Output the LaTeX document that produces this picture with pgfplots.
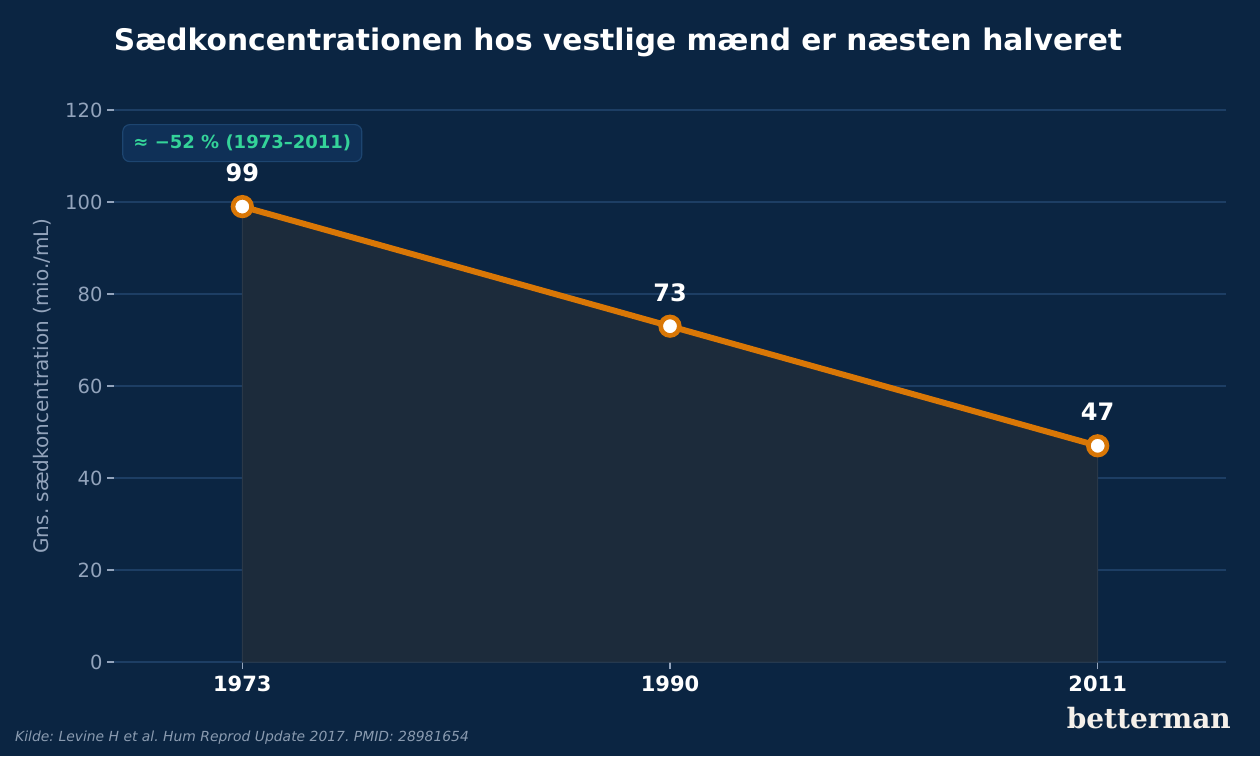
\documentclass[border=0pt]{standalone}
\usepackage{pgfplots}
\pgfplotsset{compat=1.18}
\usepackage{fontspec}
\setmainfont{DejaVu Sans}
\newfontfamily\logofont{DejaVu Serif}
\frenchspacing

\definecolor{bg}{HTML}{0B2542}
\definecolor{gridc}{HTML}{1D3E64}
\definecolor{muted}{HTML}{93A4BC}
\definecolor{areac}{HTML}{1C2B3B}
\definecolor{areaedge}{HTML}{2A3848}
\definecolor{linec}{HTML}{D97706}
\definecolor{badgefill}{HTML}{0F3057}
\definecolor{badgeedge}{HTML}{1D4570}
\definecolor{badgetext}{HTML}{34D399}
\definecolor{logoc}{HTML}{F5F0EA}
\definecolor{footc}{HTML}{8A9BB0}

\begin{document}
\begin{tikzpicture}[x=1pt,y=1pt]
\fill[bg] (0,0) rectangle (1260,756);
\begin{axis}[
  at={(114pt,94pt)}, anchor=south west,
  scale only axis, width=1112pt, height=552pt,
  xmin=-0.3, xmax=2.3, ymin=0, ymax=120,
  axis line style={draw=none},
  xtick={0,1,2}, xticklabels={1973,1990,2011},
  ytick={0,20,40,60,80,100,120},
  xtick pos=bottom, ytick pos=left,
  ymajorgrids, grid style={color=gridc, line width=1.2pt},
  tick align=outside,
  major tick length=7pt,
  tick style={color=muted, line width=1.2pt},
  xtick style={color=muted, line width=1.6pt},
  yticklabel style={font=\fontsize{19.5}{22}\selectfont, text=muted,
    /pgf/number format/assume math mode=true, xshift=-1pt},
  xticklabel style={font=\bfseries\fontsize{21}{24}\selectfont, text=white, yshift=-3pt},
  ylabel={Gns. sædkoncentration (mio./mL)},
  ylabel style={at={(rel axis cs:0,0.5)}, yshift=72pt, anchor=center,
    font=\fontsize{20}{23}\selectfont, text=muted},
  clip=false,
]
% shaded area under the series
\addplot[fill=areac, draw=areaedge, line width=1pt] coordinates {(0,99) (1,73) (2,47)} \closedcycle;
% the series itself with value labels
\addplot[color=linec, line width=6pt,
  mark=*, mark size=9.3pt,
  mark options={fill=white, draw=linec, line width=4.6pt},
  nodes near coords,
  /pgf/number format/assume math mode=true,
  every node near coord/.append style={anchor=base, yshift=25pt, text=white,
    font=\bfseries\fontsize{24}{28}\selectfont},
] coordinates {(0,99) (1,73) (2,47)};
% change badge
\node[fill=badgefill, draw=badgeedge, line width=1.2pt, rounded corners=7pt,
  text=badgetext, font=\bfseries\fontsize{18}{21}\selectfont,
  minimum width=239pt, minimum height=37pt, inner sep=0pt]
  at (axis cs:0,112.8) {≈ −52 \% (1973–2011)};
\end{axis}
% title
\node[text=white, font=\bfseries\fontsize{29.7}{34}\selectfont] at (618,714)
  {Sædkoncentrationen hos vestlige mænd er næsten halveret};
% source
\node[anchor=west, text=footc, font=\itshape\fontsize{13.9}{16}\selectfont, inner sep=0pt] at (15,18)
  {Kilde: Levine H et al. Hum Reprod Update 2017. PMID: 28981654};
% brand
\node[anchor=east, text=logoc, font=\logofont\bfseries\fontsize{28}{31}\selectfont, inner sep=0pt] at (1231,38)
  {betterman};
\pgfresetboundingbox
\useasboundingbox (0,0) rectangle (1260,756);
\end{tikzpicture}
\end{document}
